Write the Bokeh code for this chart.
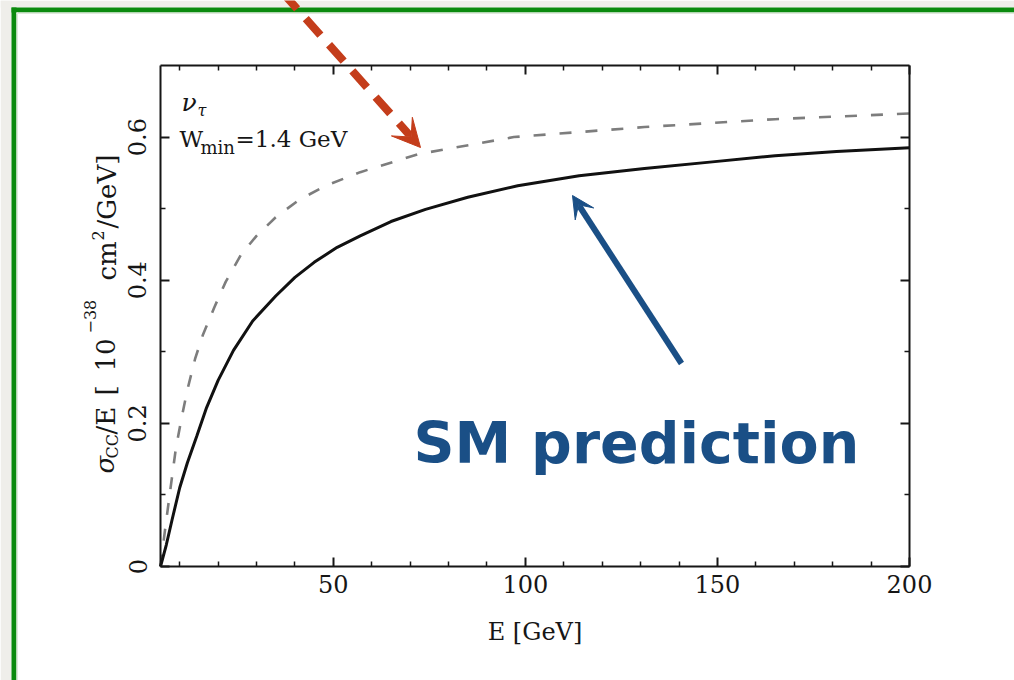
import numpy as np
from bokeh.plotting import figure
from bokeh.models import (Range1d, LinearAxis, FixedTicker, Label, Arrow, VeeHead,
                          BoxAnnotation, CustomJSTickFormatter, ColumnDataSource)
from bokeh.embed import file_html
from bokeh.resources import INLINE

# ---------------- data ----------------
energy_sm = [5, 6.5, 8, 10, 12, 14.5, 17, 20, 24, 29, 35, 40, 45, 51, 57, 65, 74, 85, 98,
             114, 131, 148, 165, 181, 200]
xsec_sm = [0, 0.030, 0.065, 0.110, 0.145, 0.183, 0.222, 0.260, 0.302, 0.343, 0.378, 0.404,
           0.425, 0.446, 0.462, 0.482, 0.499, 0.516, 0.532, 0.546, 0.556, 0.565, 0.574,
           0.580, 0.585]
energy_alt = [5, 6.2, 7.5, 9, 10.5, 12, 14, 16, 19, 22, 26, 30, 35, 41, 48, 57, 72, 97,
              131, 165, 200]
xsec_alt = [0, 0.052, 0.105, 0.165, 0.208, 0.247, 0.290, 0.323, 0.362, 0.398, 0.436, 0.462,
            0.488, 0.512, 0.532, 0.551, 0.576, 0.600, 0.614, 0.625, 0.633]

x_major_ticks = [50, 100, 150, 200]
x_minor_ticks = [10, 20, 30, 40, 60, 70, 80, 90, 110, 120, 130, 140, 160, 170, 180, 190]
y_major_ticks = [0, 0.2, 0.4, 0.6]
y_minor_ticks = [0.1, 0.3, 0.5]
x_limits = (5, 200)
y_limits = (0, 0.7)
x_axis_title = "E [GeV]"
annotation_text = "SM prediction"

# ---------------- geometry of the page ----------------
W, H = 1014, 680
BOX_L, BOX_R, BOX_T, BOX_B = 160, 909, 65, 566
SX = (x_limits[1] - x_limits[0]) / (BOX_R - BOX_L)
SY = (y_limits[1] - y_limits[0]) / (BOX_B - BOX_T)


def dx(px):
    return x_limits[0] + (px - BOX_L) * SX


def dy(py):
    return y_limits[0] + (BOX_B - py) * SY


# ---------------- styles ----------------
INK = "#161616"
SERIF = "DejaVu Serif"
BLUE = "#1a4f86"
RED = "#c43d1b"
GREEN = "#0b8a0e"
PAPER = "#efeeea"

p = figure(width=W, height=H,
           x_range=Range1d(dx(0), dx(W)), y_range=Range1d(dy(H), dy(0)),
           output_backend="svg", toolbar_location=None,
           x_axis_type=None, y_axis_type=None,
           min_border=0, min_border_left=0, min_border_right=0,
           min_border_top=0, min_border_bottom=0,
           background_fill_color="white", border_fill_color="white", outline_line_color=None)
p.xgrid.visible = False
p.ygrid.visible = False


def style_axis(ax, show_labels=True):
    ax.axis_line_color = INK
    ax.axis_line_width = 2
    ax.major_tick_line_color = INK
    ax.major_tick_line_width = 2
    ax.minor_tick_line_color = INK
    ax.minor_tick_line_width = 1.5
    ax.major_tick_in = 9
    ax.major_tick_out = 0
    ax.minor_tick_in = 5
    ax.minor_tick_out = 0
    ax.major_label_text_font = SERIF
    ax.major_label_text_font_size = "24px"
    ax.major_label_text_color = INK
    if not show_labels:
        ax.formatter = CustomJSTickFormatter(code="return ''")
        ax.major_label_standoff = 0
    return ax


xt = FixedTicker(ticks=x_major_ticks, minor_ticks=x_minor_ticks)
yt = FixedTicker(ticks=y_major_ticks, minor_ticks=y_minor_ticks)

bottom = style_axis(LinearAxis(ticker=xt, fixed_location=y_limits[0], bounds=x_limits))
bottom.major_label_standoff = 8
bottom.axis_label = x_axis_title
bottom.axis_label_text_font = SERIF
bottom.axis_label_text_font_size = "24px"
bottom.axis_label_text_font_style = "normal"
bottom.axis_label_text_color = INK
bottom.axis_label_standoff = 22
p.add_layout(bottom, "below")

left = style_axis(LinearAxis(ticker=yt, fixed_location=x_limits[0], bounds=y_limits))
left.major_label_orientation = "vertical"
left.major_label_standoff = 14
left.major_label_overrides = {0: "0"}
p.add_layout(left, "left")

top = style_axis(LinearAxis(ticker=xt, fixed_location=y_limits[1], bounds=x_limits),
                 show_labels=False)
p.add_layout(top, "above")
right = style_axis(LinearAxis(ticker=yt, fixed_location=x_limits[1], bounds=y_limits),
                   show_labels=False)
p.add_layout(right, "right")

# ---------------- curves ----------------
src_sm = ColumnDataSource(dict(x=energy_sm, y=xsec_sm))
src_alt = ColumnDataSource(dict(x=energy_alt, y=xsec_alt))
p.line("x", "y", source=src_alt, line_color="#7d7d7d", line_width=2.6, line_dash="12 14")
p.line("x", "y", source=src_sm, line_color="#111111", line_width=3)

# ---------------- slide frame (paper + green border) ----------------
frame_boxes = [(0, W, 0, 7, PAPER), (0, 11, 0, H, PAPER),
               (11, W, 7, 12, GREEN), (11, 16, 7, H, GREEN),
               (16, W, 12, 13.5, "#dfe9dc"), (16, 17.5, 12, H, "#dfe9dc")]
for (l, r, t, b, c) in frame_boxes:
    p.add_layout(BoxAnnotation(left=dx(l), right=dx(r), top=dy(t), bottom=dy(b),
                               fill_color=c, fill_alpha=1, line_color=None, level="underlay"))

# ---------------- y-axis title (composite, rotated) ----------------
ylabel_parts = [("σ", 104, 473, "26px", "italic"),
                ("CC", 112, 458, "16px", "normal"),
                ("/E", 105, 434, "26px", "normal"),
                ("[", 105, 395, "26px", "normal"),
                ("10", 105, 371, "26px", "normal"),
                ("−38", 89, 333, "16px", "normal"),
                ("cm", 106, 280, "26px", "normal"),
                ("2", 97, 240, "16px", "normal"),
                ("/GeV]", 106, 228, "26px", "normal")]
for txt, sx_, sy_, fs, st in ylabel_parts:
    p.add_layout(Label(x=dx(sx_), y=dy(sy_), text=txt, angle=np.pi / 2, text_font=SERIF,
                       text_font_size=fs, text_font_style=st, text_color=INK,
                       text_align="left", text_baseline="alphabetic"))

# ---------------- in-plot legend text ----------------
inplot_parts = [("ν", 181, 102, "25px", "italic"),
                ("τ", 197, 110, "16px", "italic"),
                ("W", 179, 138, "23px", "normal"),
                ("min", 200, 147, "18px", "normal"),
                ("=1.4 GeV", 235, 138, "23px", "normal")]
for txt, sx_, sy_, fs, st in inplot_parts:
    p.add_layout(Label(x=dx(sx_), y=dy(sy_), text=txt, text_font=SERIF, text_font_size=fs,
                       text_font_style=st, text_color=INK,
                       text_align="left", text_baseline="alphabetic"))

# ---------------- annotation arrows and text ----------------
p.add_layout(Arrow(end=VeeHead(size=22, fill_color=BLUE, line_color=BLUE, line_width=1),
                   x_start=dx(681), y_start=dy(363), x_end=dx(572), y_end=dy(195),
                   line_color=BLUE, line_width=6, level="overlay"))
p.add_layout(Arrow(end=VeeHead(size=28, fill_color=RED, line_color=RED, line_width=1),
                   x_start=dx(282), y_start=dy(-8), x_end=dx(420), y_end=dy(147),
                   line_color=RED, line_width=8, line_dash="22 13", level="overlay"))
p.add_layout(Label(x=dx(413), y=dy(442), text=annotation_text, text_font="DejaVu Sans",
                   text_font_size="57px", text_font_style="bold", text_color=BLUE,
                   text_align="left", text_baseline="alphabetic"))

open("out.html", "w").write(file_html(p, INLINE))
